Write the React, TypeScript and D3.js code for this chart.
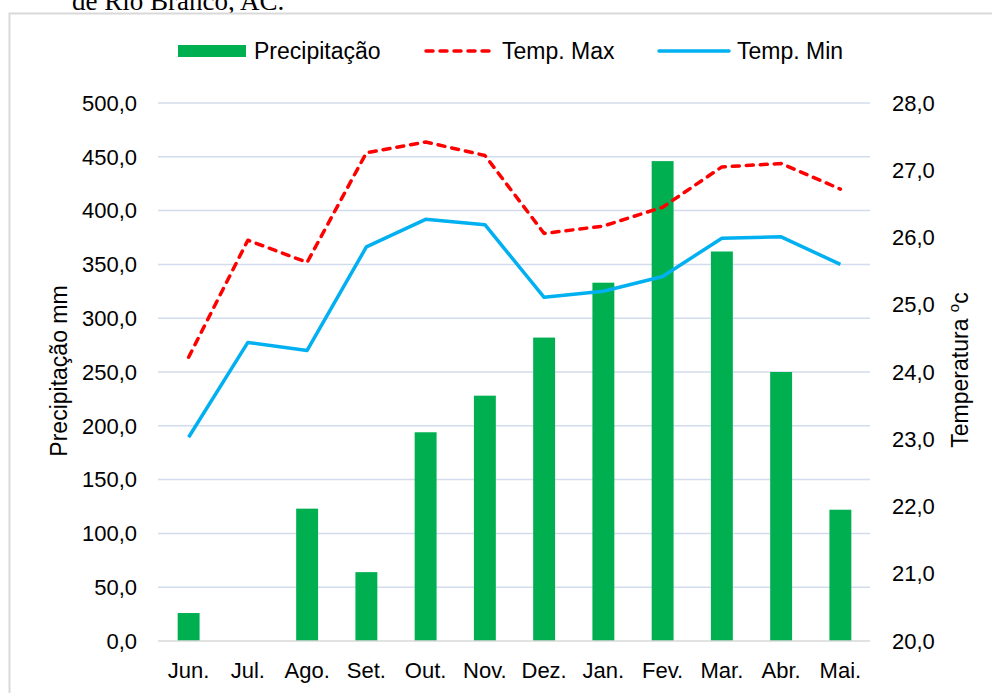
import React, { useEffect, useRef } from 'react';
import * as d3 from 'd3';

const months = ['Jun.', 'Jul.', 'Ago.', 'Set.', 'Out.', 'Nov.', 'Dez.', 'Jan.', 'Fev.', 'Mar.', 'Abr.', 'Mai.'];
const precipitacao = [26, 0, 123, 64, 194, 228, 282, 333, 446, 362, 250, 122];
const tempMax = [24.22, 25.96, 25.63, 27.26, 27.42, 27.22, 26.06, 26.17, 26.45, 27.05, 27.1, 26.72];
const tempMin = [23.03, 24.44, 24.32, 25.86, 26.27, 26.19, 25.11, 25.2, 25.42, 25.99, 26.01, 25.6];
const precTicks = [0, 50, 100, 150, 200, 250, 300, 350, 400, 450, 500];
const tempTicks = [20, 21, 22, 23, 24, 25, 26, 27, 28];

const W = 992;
const H = 693;
const FONT = "'Liberation Sans', Arial, sans-serif";

const fmt = (v: number) => v.toFixed(1).replace('.', ',');

const ClimateChart: React.FC = () => {
  const ref = useRef<SVGSVGElement>(null);

  useEffect(() => {
    if (!ref.current) return;
    const svg = d3.select(ref.current);
    svg.selectAll('*').remove();

    const plot = { left: 159, right: 870, top: 103, bottom: 641 };

    // caption cut off by the crop, plus the chart frame
    svg.append('text')
      .attr('x', 72).attr('y', 10)
      .style('font-family', "'Liberation Serif', 'Times New Roman', serif")
      .style('font-size', '27px')
      .attr('fill', '#000')
      .text('de Rio Branco, AC.');

    svg.append('rect')
      .attr('x', 9.5).attr('y', 13.5)
      .attr('width', W + 20).attr('height', H)
      .attr('fill', 'none')
      .attr('stroke', '#d9d9d9')
      .attr('stroke-width', 2);

    const x = d3.scaleBand<string>()
      .domain(months)
      .range([plot.left, plot.right])
      .paddingInner(0.63)
      .paddingOuter(0.315);

    const yP = d3.scaleLinear().domain([0, 500]).range([plot.bottom, plot.top]);
    const yT = d3.scaleLinear().domain([20, 28]).range([plot.bottom, plot.top]);

    // gridlines
    svg.append('g')
      .selectAll('line')
      .data(precTicks.slice(1))
      .join('line')
      .attr('x1', 158).attr('x2', plot.right)
      .attr('y1', d => yP(d)).attr('y2', d => yP(d))
      .attr('stroke', '#d3dcec')
      .attr('stroke-width', 1.5);

    // bars
    svg.append('g')
      .selectAll('rect')
      .data(precipitacao)
      .join('rect')
      .attr('x', (_, i) => x(months[i]) as number)
      .attr('width', x.bandwidth())
      .attr('y', d => yP(d))
      .attr('height', d => yP(0) - yP(d))
      .attr('fill', '#00b050');

    // baseline
    svg.append('line')
      .attr('x1', 158).attr('x2', plot.right)
      .attr('y1', plot.bottom).attr('y2', plot.bottom)
      .attr('stroke', '#d9d9d9')
      .attr('stroke-width', 1.5);

    const cx = (i: number) => (x(months[i]) as number) + x.bandwidth() / 2;
    const line = d3.line<number>()
      .x((_, i) => cx(i))
      .y(d => yT(d));

    svg.append('path')
      .datum(tempMin)
      .attr('fill', 'none')
      .attr('stroke', '#00b0f0')
      .attr('stroke-width', 3.5)
      .attr('stroke-linejoin', 'round')
      .attr('d', line);

    svg.append('path')
      .datum(tempMax)
      .attr('fill', 'none')
      .attr('stroke', '#ff0000')
      .attr('stroke-width', 3.5)
      .attr('stroke-dasharray', '7,7')
      .attr('stroke-linecap', 'round')
      .attr('stroke-linejoin', 'round')
      .attr('d', line);

    // axes labels
    svg.append('g')
      .selectAll('text')
      .data(precTicks)
      .join('text')
      .attr('x', 137)
      .attr('y', d => yP(d))
      .attr('dy', '0.35em')
      .attr('text-anchor', 'end')
      .style('font-family', FONT)
      .style('font-size', '22px')
      .attr('fill', '#000')
      .text(d => fmt(d));

    svg.append('g')
      .selectAll('text')
      .data(tempTicks)
      .join('text')
      .attr('x', 892)
      .attr('y', d => yT(d))
      .attr('dy', '0.35em')
      .style('font-family', FONT)
      .style('font-size', '22px')
      .attr('fill', '#000')
      .text(d => fmt(d));

    svg.append('g')
      .selectAll('text')
      .data(months)
      .join('text')
      .attr('x', d => (x(d) as number) + x.bandwidth() / 2)
      .attr('y', 678)
      .attr('text-anchor', 'middle')
      .style('font-family', FONT)
      .style('font-size', '22px')
      .attr('fill', '#000')
      .text(d => d);

    svg.append('text')
      .attr('transform', 'translate(67,371) rotate(-90)')
      .attr('text-anchor', 'middle')
      .style('font-family', FONT)
      .style('font-size', '23px')
      .attr('fill', '#000')
      .text('Precipitação mm');

    const tTitle = svg.append('text')
      .attr('transform', 'translate(968,370) rotate(-90)')
      .attr('text-anchor', 'middle')
      .style('font-family', FONT)
      .style('font-size', '23px')
      .attr('fill', '#000');
    tTitle.append('tspan').text('Temperatura ');
    tTitle.append('tspan').attr('dy', -9).style('font-size', '15px').text('o');
    tTitle.append('tspan').attr('dy', 9).text('c');

    // legend
    const lg = svg.append('g').style('font-family', FONT).style('font-size', '23px');
    lg.append('rect').attr('x', 178).attr('y', 45).attr('width', 68).attr('height', 12).attr('fill', '#00b050');
    lg.append('text').attr('x', 254).attr('y', 59).text('Precipitação');
    lg.append('line')
      .attr('x1', 426).attr('x2', 494).attr('y1', 51).attr('y2', 51)
      .attr('stroke', '#ff0000').attr('stroke-width', 3.5)
      .attr('stroke-dasharray', '7,7').attr('stroke-linecap', 'round');
    lg.append('text').attr('x', 502).attr('y', 59).text('Temp. Max');
    lg.append('line')
      .attr('x1', 659).attr('x2', 729).attr('y1', 51).attr('y2', 51)
      .attr('stroke', '#00b0f0').attr('stroke-width', 3.5).attr('stroke-linecap', 'round');
    lg.append('text').attr('x', 737).attr('y', 59).text('Temp. Min');
  }, []);

  return (
    <svg
      ref={ref}
      width={W}
      height={H}
      style={{ position: 'absolute', left: 0, top: 0, display: 'block', background: '#fff' }}
    />
  );
};

export default function App() {
  return <ClimateChart />;
}
